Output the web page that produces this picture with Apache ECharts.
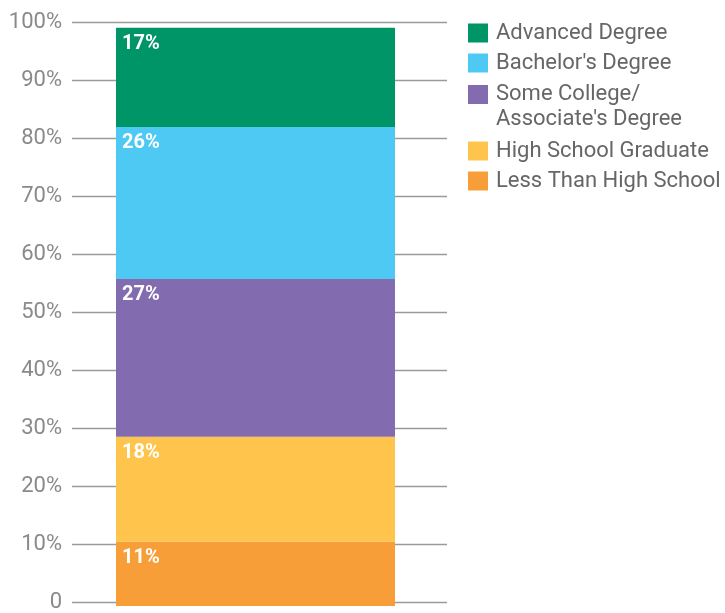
<!DOCTYPE html>
<html>
<head>
<meta charset="utf-8">
<script src="https://cdn.jsdelivr.net/npm/echarts@6/dist/echarts.min.js"></script>
<style>
  html, body { margin: 0; padding: 0; background: #fff; }
  #chart { width: 725px; height: 613px; }
</style>
</head>
<body>
<div id="chart"></div>
<script>
// Educational attainment shares, stacked bottom to top
const categories = ['All'];
const levels = [
  'Less Than High School',
  'High School Graduate',
  'Some College/\nAssociate\'s Degree',
  'Bachelor\'s Degree',
  'Advanced Degree'
];
const lessThanHS = [11];
const hsGraduate = [18];
const someCollege = [27];
const bachelors = [26];
const advanced = [17];
const yTicks = [0, 10, 20, 30, 40, 50, 60, 70, 80, 90, 100];

const seriesValues = [lessThanHS, hsGraduate, someCollege, bachelors, advanced];
const colors = ['#f89e38', '#ffc44b', '#826baf', '#4dc9f4', '#009567'];

const chart = echarts.init(document.getElementById('chart'), null, { renderer: 'canvas' });

const series = levels.map((name, i) => ({
  name: name,
  type: 'bar',
  stack: 'total',
  xAxisIndex: 1,
  yAxisIndex: 1,
  barWidth: 279,
  data: seriesValues[i],
  itemStyle: { color: colors[i] },
  label: {
    show: true,
    position: 'insideTopLeft',
    distance: 0,
    offset: [6, 6],
    formatter: p => p.value + '%',
    color: '#fff',
    fontFamily: 'Roboto',
    fontWeight: 'bold',
    fontSize: 20
  }
}));

// One legend block per entry, listed top to bottom (Advanced first)
const legendTops = [20.5, 50.5, 57, 138.5, 168.5];
const legendOrder = levels.slice().reverse();
const legends = legendOrder.map((name, i) => ({
  data: [name],
  left: 468,
  top: legendTops[i],
  padding: 0,
  orient: 'vertical',
  icon: 'rect',
  itemWidth: 20,
  itemHeight: 19,
  itemGap: 0,
  selectedMode: false,
  // a two-line name gets a blank leading line so its first line sits beside the swatch
  formatter: n => (n.indexOf('\n') >= 0 ? '\n' + n : n),
  textStyle: {
    fontFamily: 'Roboto',
    fontSize: 22,
    color: '#666',
    lineHeight: 25,
    padding: [0, 0, 0, 3]
  }
}));

const yBase = {
  type: 'value',
  min: 0,
  max: 100,
  interval: 10
};

chart.setOption({
  animation: false,
  grid: [
    { left: 72, right: 278, top: 22, bottom: 7, containLabel: false },
    { left: 72, right: 286, top: 22, bottom: 7, containLabel: false }
  ],
  legend: legends,
  xAxis: [
    { type: 'category', gridIndex: 0, data: categories, show: false },
    { type: 'category', gridIndex: 1, data: categories, show: false }
  ],
  yAxis: [
    Object.assign({}, yBase, {
      gridIndex: 0,
      axisLine: { show: false },
      axisTick: { show: false },
      splitLine: { lineStyle: { color: '#9a9a9a', width: 1.3 } },
      axisLabel: {
        margin: 10,
        fontFamily: 'Roboto',
        fontSize: 22,
        color: '#8a8a8a',
        formatter: v => (yTicks.indexOf(v) >= 0 ? (v === 0 ? '0' : v + '%') : '')
      }
    }),
    Object.assign({}, yBase, { gridIndex: 1, show: false, splitLine: { show: false } })
  ],
  series: series
});
</script>
</body>
</html>
